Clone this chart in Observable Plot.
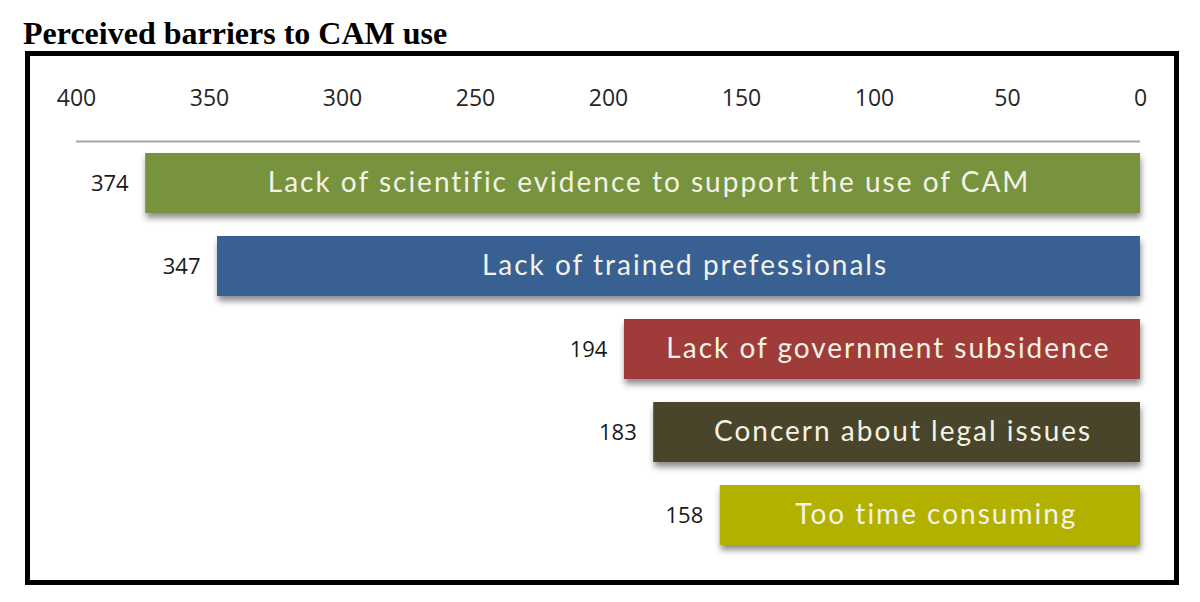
<!DOCTYPE html>
<html>
<head>
<meta charset="utf-8">
<script src="https://cdn.jsdelivr.net/npm/d3@7"></script>
<script src="https://cdn.jsdelivr.net/npm/@observablehq/plot@0.6"></script>
<style>
  html, body { margin: 0; padding: 0; background: #fff; }
  #title { position: absolute; left: 23px; top: 17px; font: bold 32px/32px "Liberation Serif", "Times New Roman", serif; color: #000; white-space: nowrap; }
  #box { position: absolute; left: 25px; top: 51px; width: 1144px; height: 524px; border: 5px solid #000; background: #fff; }
  #box svg { display: block; }
  g.barText text { letter-spacing: 2px; }
</style>
</head>
<body>
<div id="title">Perceived barriers to CAM use</div>
<div id="box"></div>
<script>
const labels = [
  "Lack of scientific evidence to support the use of CAM",
  "Lack of trained prefessionals",
  "Lack of government subsidence",
  "Concern about legal issues",
  "Too time consuming"
];
const values = [374, 347, 194, 183, 158];
const tickValues = [400, 350, 300, 250, 200, 150, 100, 50, 0];
const barColors = ["#77933c", "#376092", "#9f3b39", "#4a452a", "#b3b100"];

const data = labels.map((label, i) => ({label, value: values[i]}));

const chart = Plot.plot({
  width: 1144,
  height: 524,
  marginLeft: 46,
  marginRight: 34,
  marginTop: 96,
  marginBottom: 34,
  style: {fontFamily: "'Open Sans', sans-serif", background: "#fff"},
  x: {domain: [0, 400], reverse: true, axis: null, label: null},
  y: {domain: labels, axis: null, paddingInner: 0.28, paddingOuter: 0},
  color: {domain: labels, range: barColors},
  marks: [
    Plot.axisX({anchor: "top", ticks: tickValues, tickSize: 0, tickPadding: 47, fontSize: 23, fill: "#262626", label: null, tickFormat: d => String(d)}),
    Plot.ruleY([labels[0]], {x1: 400, x2: 0, dy: -42, stroke: "#a6a6a6", strokeWidth: 2}),
    Plot.barX(data, {x: "value", y: "label", fill: "label"}),
    Plot.text(data, {x: "value", y: "label", text: d => String(d.value), textAnchor: "end", dx: -17, fontSize: 22, fill: "#1a1a1a"}),
    Plot.text(data, {x: d => d.value / 2, y: "label", text: "label", dx: 6, fontSize: 28, fill: "#f3f2e6", fontFamily: "Lato, sans-serif", className: "barText"})
  ]
});

// drop shadow under bars
const svg = d3.select(chart);
const defs = svg.insert("defs", ":first-child");
const f = defs.append("filter").attr("id", "barShadow").attr("x", "-5%").attr("y", "-20%").attr("width", "110%").attr("height", "150%");
f.append("feDropShadow").attr("dx", 1).attr("dy", 5).attr("stdDeviation", 3).attr("flood-color", "#000").attr("flood-opacity", 0.45);
svg.select('g[aria-label="bar"]').attr("filter", "url(#barShadow)");
svg.selectAll('g[aria-label="text"]').filter(function() { return this.getAttribute("font-size") === "28"; }).attr("letter-spacing", "2px");

document.getElementById("box").appendChild(chart);
</script>
</body>
</html>
